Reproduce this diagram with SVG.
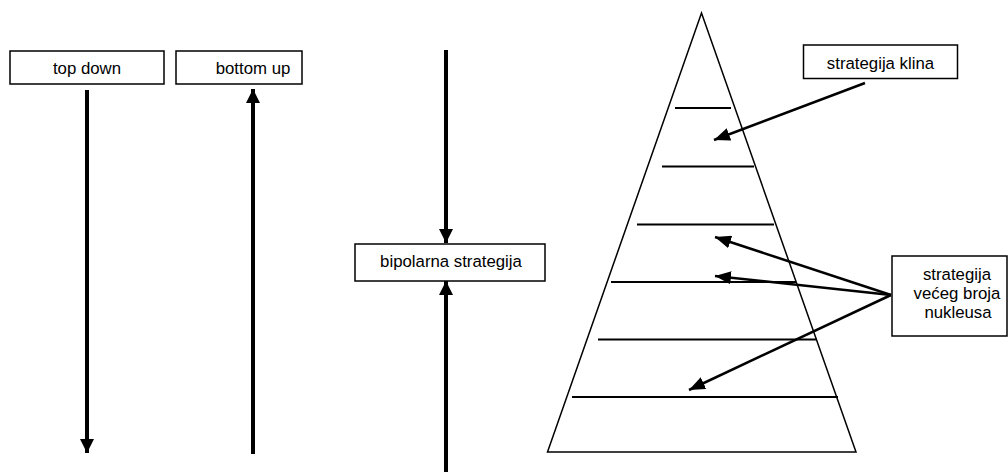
<svg xmlns="http://www.w3.org/2000/svg" width="1008" height="472" viewBox="0 0 1008 472">
<style>
.box{fill:#fff;stroke:#000;stroke-width:1.5}
.lbl{font-family:"Liberation Sans",Arial,sans-serif;font-size:16.8px;fill:#000;text-anchor:middle}
.thick{stroke:#000;stroke-width:4;fill:none}
.thin{stroke:#000;stroke-width:2.5;fill:none}
.tier{stroke:#000;stroke-width:2;fill:none}
</style>
<defs>
<marker id="big" markerUnits="userSpaceOnUse" markerWidth="14" markerHeight="14" viewBox="0 0 14 14" refX="14" refY="7" orient="auto">
<path d="M0,0 L14,7 L0,14 Z" fill="#000"/>
</marker>
<marker id="small" markerUnits="userSpaceOnUse" markerWidth="16" markerHeight="13" viewBox="0 0 16 13" refX="16" refY="6.5" orient="auto">
<path d="M0,0 L16,6.5 L0,13 Z" fill="#000"/>
</marker>
</defs>
<g id="pyramid">
<polygon points="701.5,13 547.5,452 856,452" fill="none" stroke="#000" stroke-width="1.5"/>
<line class="tier" x1="675" y1="108" x2="731" y2="108"/>
<line class="tier" x1="662" y1="166.5" x2="754" y2="166.5"/>
<line class="tier" x1="637" y1="224.5" x2="774" y2="224.5"/>
<line class="tier" x1="611" y1="282" x2="796" y2="282"/>
<line class="tier" x1="598" y1="339.5" x2="817" y2="339.5"/>
<line class="tier" x1="572" y1="397" x2="838" y2="397"/>
</g>
<g id="top-down">
<rect class="box" x="10" y="51" width="154" height="33"/>
<text class="lbl" x="87" y="74">top down</text>
</g>
<g id="bottom-up">
<rect class="box" x="176" y="51" width="126" height="33"/>
<text class="lbl" x="253" y="74">bottom up</text>
</g>
<g id="bipolarna">
<rect class="box" x="355" y="244" width="190" height="37"/>
<text class="lbl" x="451" y="267">bipolarna strategija</text>
</g>
<g id="klina">
<rect class="box" x="803.5" y="45" width="154" height="33.5"/>
<text class="lbl" x="880.5" y="69">strategija klina</text>
</g>
<g id="nukleusa">
<rect class="box" x="892" y="256" width="115" height="80"/>
<text class="lbl" x="957" y="280">strategija</text>
<text class="lbl" x="957" y="299">većeg broja</text>
<text class="lbl" x="958" y="318">nukleusa</text>
</g>
<g id="connectors">
<line class="thick" x1="87" y1="90" x2="87" y2="453" marker-end="url(#big)"/>
<line class="thick" x1="253" y1="454" x2="253" y2="89" marker-end="url(#big)"/>
<line class="thick" x1="446" y1="50" x2="446" y2="243" marker-end="url(#big)"/>
<line class="thick" x1="446" y1="472" x2="446" y2="281" marker-end="url(#big)"/>
<line class="thin" x1="865" y1="83" x2="714" y2="140" marker-end="url(#small)"/>
<line class="thin" x1="891" y1="295" x2="715" y2="237" marker-end="url(#small)"/>
<line class="thin" x1="891" y1="295" x2="715" y2="276" marker-end="url(#small)"/>
<line class="thin" x1="891" y1="295" x2="689" y2="390" marker-end="url(#small)"/>
</g>
</svg>
